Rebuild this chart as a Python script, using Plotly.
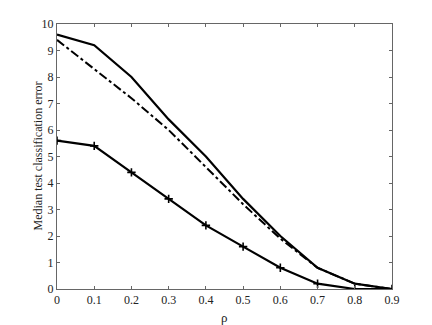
import plotly.graph_objects as go

rho = [0, 0.1, 0.2, 0.3, 0.4, 0.5, 0.6, 0.7, 0.8, 0.9]
top_solid = [9.6, 9.2, 8.0, 6.4, 5.0, 3.4, 2.0, 0.8, 0.2, 0.0]
dash_dot = [9.4, 8.3, 7.2, 6.0, 4.6, 3.2, 1.9, 0.8, 0.2, 0.0]
bottom_plus = [5.6, 5.4, 4.4, 3.4, 2.4, 1.6, 0.8, 0.2, 0.0, 0.0]
x_ticks = [0, 0.1, 0.2, 0.3, 0.4, 0.5, 0.6, 0.7, 0.8, 0.9]
x_labels = ["0", "0.1", "0.2", "0.3", "0.4", "0.5", "0.6", "0.7", "0.8", "0.9"]
y_ticks = list(range(0, 11))

SERIF = "Liberation Serif, Times New Roman, serif"

fig = go.Figure()
fig.add_trace(go.Scatter(x=rho, y=dash_dot, mode="lines",
                         line=dict(color="black", width=2, dash="dashdot")))
fig.add_trace(go.Scatter(x=rho, y=top_solid, mode="lines",
                         line=dict(color="black", width=2.2)))
fig.add_trace(go.Scatter(x=rho, y=bottom_plus, mode="lines+markers",
                         line=dict(color="black", width=2.2),
                         marker=dict(symbol="cross-thin", size=6,
                                     line=dict(color="black", width=1.6))))

axis_common = dict(showline=True, linecolor="#666", linewidth=1, mirror="ticks",
                   ticks="inside", ticklen=3, tickcolor="#666", showgrid=False,
                   zeroline=False, automargin=False,
                   tickfont=dict(family=SERIF, size=12, color="#222"))

fig.update_layout(
    width=432, height=325,
    margin=dict(l=49, r=48, t=16, b=44),
    paper_bgcolor="white", plot_bgcolor="white",
    showlegend=False,
    xaxis=dict(range=[0, 0.9], tickvals=x_ticks, ticktext=x_labels, **axis_common),
    yaxis=dict(range=[0, 10], tickvals=y_ticks, **axis_common),
    annotations=[
        dict(text="ρ", xref="paper", yref="paper", x=0.5, y=0, yshift=-19,
             yanchor="top", showarrow=False,
             font=dict(family=SERIF, size=13, color="#222")),
        dict(text="Median test classification error", xref="paper", yref="paper",
             x=0, y=0.5, xshift=-20, xanchor="center", yanchor="middle",
             textangle=-90, showarrow=False,
             font=dict(family=SERIF, size=12, color="#222")),
    ],
)
fig.write_html("out.html")
